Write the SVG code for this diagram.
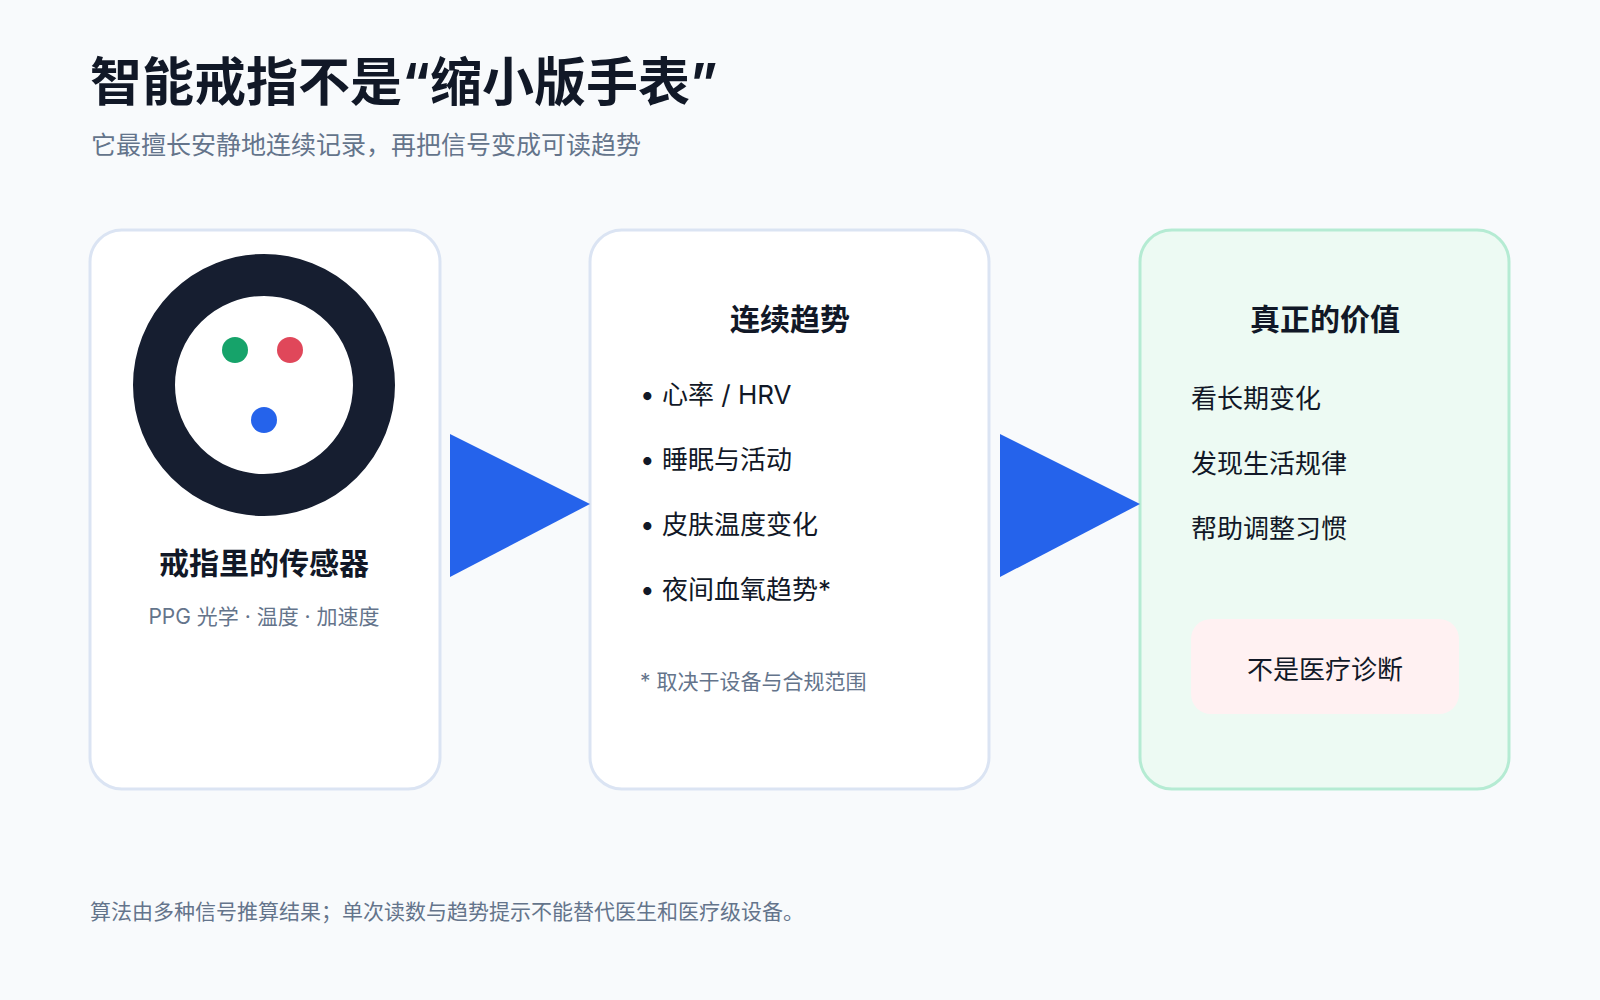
<svg xmlns="http://www.w3.org/2000/svg" width="1600" height="1000" viewBox="0 0 1600 1000">
<style>
text{font-family:"Inter","Noto Sans CJK SC",sans-serif}
.card{fill:#fff;stroke:#dbe4f3;stroke-width:3}
.h{font-size:30px;font-weight:700;fill:#111827;text-anchor:middle}
.it{font-size:26px;fill:#111827}
.mut{font-size:21px;fill:#64748b}
.arr{fill:#2563eb}
</style>
<rect width="1600" height="1000" fill="#f8fafc"/>
<text x="90" y="101" font-size="52" font-weight="700" fill="#111827">智能戒指不是“缩小版手表”</text>
<text x="91" y="154" font-size="25" fill="#64748b">它最擅长安静地连续记录，再把信号变成可读趋势</text>
<g id="sensor">
<rect class="card" x="90" y="230" width="350" height="559" rx="32"/>
<circle cx="264" cy="385" r="110" fill="none" stroke="#161e30" stroke-width="42"/>
<circle cx="235" cy="350" r="13" fill="#16a36a"/>
<circle cx="290" cy="350" r="13" fill="#e0475a"/>
<circle cx="264" cy="420" r="13" fill="#2563eb"/>
<text class="h" x="264" y="574">戒指里的传感器</text>
<text class="mut" x="264" y="624" text-anchor="middle">PPG 光学 · 温度 · 加速度</text>
</g>
<g id="trend">
<rect class="card" x="590" y="230" width="399" height="559" rx="32"/>
<text class="h" x="790" y="330">连续趋势</text>
<text class="it" x="640" y="404">• 心率 / HRV</text>
<text class="it" x="640" y="469">• 睡眠与活动</text>
<text class="it" x="640" y="534">• 皮肤温度变化</text>
<text class="it" x="640" y="599">• 夜间血氧趋势*</text>
<text class="mut" x="640" y="689">* 取决于设备与合规范围</text>
</g>
<g id="value">
<rect x="1140" y="230" width="369" height="559" rx="32" fill="#edfaf3" stroke="#b5ebd3" stroke-width="3"/>
<text class="h" x="1325" y="330">真正的价值</text>
<text class="it" x="1191" y="408">看长期变化</text>
<text class="it" x="1191" y="473">发现生活规律</text>
<text class="it" x="1191" y="538">帮助调整习惯</text>
<rect x="1191" y="619" width="268" height="95" rx="20" fill="#fff1f2"/>
<text class="it" x="1325" y="679" text-anchor="middle">不是医疗诊断</text>
</g>
<g id="connectors">
<polygon class="arr" points="450,434 450,577 590,504"/>
<polygon class="arr" points="1000,434 1000,577 1140,504"/>
</g>
<text class="mut" x="90" y="919">算法由多种信号推算结果；单次读数与趋势提示不能替代医生和医疗级设备。</text>
</svg>
